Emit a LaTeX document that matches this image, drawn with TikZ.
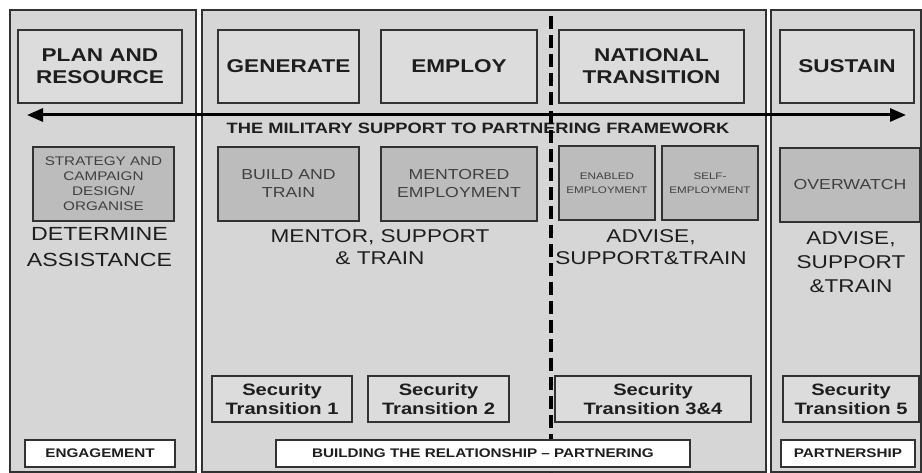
\documentclass[tikz,border=0pt]{standalone}
\usepackage{fontspec}
\setmainfont{Liberation Sans}[FakeStretch=1.22]
\usetikzlibrary{arrows.meta}
\definecolor{panelgrey}{RGB}{214,214,214}
\definecolor{headgrey}{RGB}{220,220,220}
\definecolor{stagegrey}{RGB}{188,188,188}
\definecolor{linegrey}{RGB}{50,50,50}
\definecolor{inkgrey}{RGB}{30,30,30}
\tikzstyle{panel} = [draw=linegrey,line width=2.6pt,fill=panelgrey]
\tikzstyle{headbox} = [draw=linegrey,line width=1.2pt,fill=headgrey,minimum height=73pt,align=center,inner sep=0pt,font=\bfseries\fontsize{18.5}{22}\selectfont]
\tikzstyle{stagebox} = [draw=linegrey,line width=1.2pt,fill=stagegrey,minimum height=74pt,align=center,inner sep=0pt,text=inkgrey!85,font=\fontsize{14.5}{18}\selectfont]
\tikzstyle{secbox} = [draw=linegrey,line width=1.2pt,fill=headgrey,minimum height=46pt,align=center,inner sep=0pt,font=\bfseries\fontsize{16.5}{18.5}\selectfont]
\tikzstyle{tagbox} = [draw=linegrey,line width=1.2pt,fill=white,minimum height=27pt,inner sep=0pt,font=\bfseries\fontsize{12.5}{15}\selectfont]
\tikzstyle{rolelabel} = [align=center,inner sep=0pt,font=\fontsize{18.5}{22.5}\selectfont]

\begin{document}
\begin{tikzpicture}[x=1pt,y=-1pt,text=inkgrey]
  \useasboundingbox (0,0) rectangle (922,473);
  % the three phases
  \draw[panel] (10,10) rectangle (196,472);
  \draw[panel] (202,10) rectangle (766,472);
  \draw[panel] (771,10) rectangle (921,472);

  \coordinate (arrow west) at (27,115);
  \coordinate (arrow east) at (906,115);
  \draw[line width=3pt,{Triangle[length=16pt,width=13pt]}-{Triangle[length=16pt,width=13pt]}] (arrow west) -- (arrow east);
  \node[inner sep=0pt,font=\bfseries\fontsize{15}{18}\selectfont] (framework) at (478,128) {THE MILITARY SUPPORT TO PARTNERING FRAMEWORK};

  \coordinate (split top) at (551,16);
  \coordinate (split bottom) at (551,472);
  \draw[line width=3.5pt,dash pattern=on 13pt off 6pt] (split top) -- (split bottom);

  % headings
  \node[headbox,minimum width=164pt] (plan) at (100,66.5) {PLAN AND\\RESOURCE};
  \node[headbox,minimum width=141pt] (generate) at (288.5,66.5) {GENERATE};
  \node[headbox,minimum width=156pt] (employ) at (459,66.5) {EMPLOY};
  \node[headbox,minimum width=185pt] (national) at (651.5,66.5) {NATIONAL\\TRANSITION};
  \node[headbox,minimum width=134pt] (sustain) at (847,66.5) {SUSTAIN};

  % stages
  \node[stagebox,minimum width=141pt,font=\fontsize{12.5}{15}\selectfont] (strategy) at (103.5,184) {STRATEGY AND\\CAMPAIGN\\DESIGN/\\ORGANISE};
  \node[stagebox,minimum width=141pt] (build) at (288.5,184) {BUILD AND\\TRAIN};
  \node[stagebox,minimum width=156pt] (mentored) at (459,184) {MENTORED\\EMPLOYMENT};
  \node[stagebox,minimum width=96pt,font=\fontsize{9.5}{14}\selectfont] (enabled) at (607,183) {ENABLED\\EMPLOYMENT};
  \node[stagebox,minimum width=96pt,font=\fontsize{9.5}{14}\selectfont] (self) at (710,183) {SELF-\\EMPLOYMENT};
  \node[stagebox,minimum width=140pt] (overwatch) at (850,185) {OVERWATCH};

  % roles
  \node[rolelabel,font=\fontsize{19}{26}\selectfont] (determine) at (99.5,247) {DETERMINE\\ASSISTANCE};
  \node[rolelabel] (mentor) at (380,247) {MENTOR, SUPPORT\\\& TRAIN};
  \node[rolelabel] (advise) at (651,247) {ADVISE,\\SUPPORT\&TRAIN};
  \node[rolelabel,font=\fontsize{18.5}{24}\selectfont] (advise five) at (851,262) {ADVISE,\\SUPPORT\\\&TRAIN};

  % security transitions
  \node[secbox,minimum width=140pt] (st one) at (282,399) {Security\\Transition 1};
  \node[secbox,minimum width=141pt] (st two) at (438.5,399) {Security\\Transition 2};
  \node[secbox,minimum width=196pt] (st three) at (653,399) {Security\\Transition 3\&4};
  \node[secbox,minimum width=136pt] (st five) at (851,399) {Security\\Transition 5};

  % relationship
  \node[tagbox,minimum width=150pt] (engagement) at (100,453.5) {ENGAGEMENT};
  \node[tagbox,minimum width=414pt] (building) at (483,453.5) {BUILDING THE RELATIONSHIP – PARTNERING};
  \node[tagbox,minimum width=134pt] (partnership) at (848,453.5) {PARTNERSHIP};
\end{tikzpicture}
\end{document}
